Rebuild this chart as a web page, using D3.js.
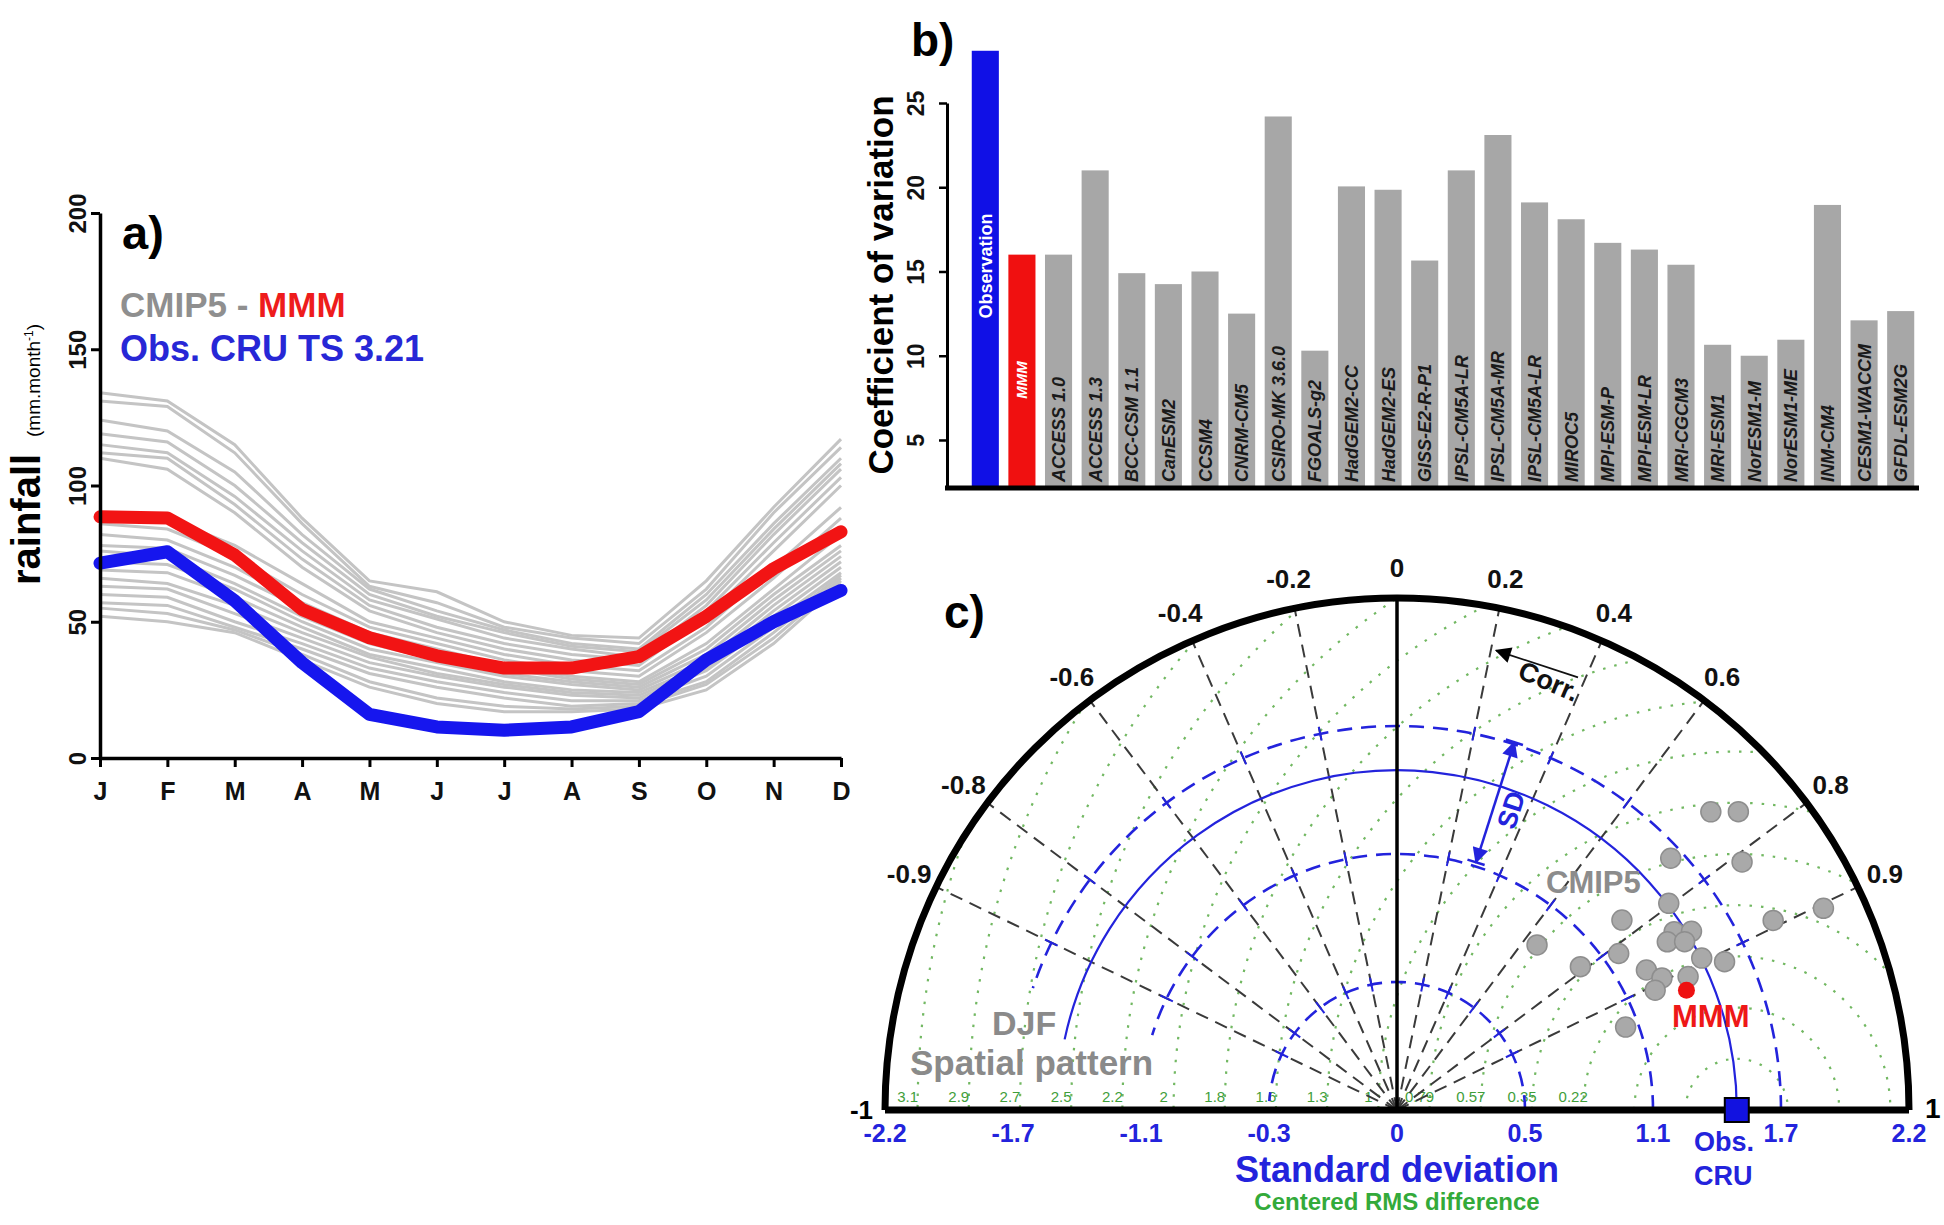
<!DOCTYPE html>
<html>
<head>
<meta charset="utf-8">
<title>CMIP5 rainfall</title>
<script src="https://cdnjs.cloudflare.com/ajax/libs/d3/7.8.5/d3.min.js"></script>
<style>
  body { margin: 0; background: #fff; }
  svg text { font-family: "Liberation Sans", Arial, Helvetica, sans-serif; font-weight: bold; }
</style>
</head>
<body>
<script>
// ---------- a) monthly rainfall (mm/month) ----------
var months = ["J", "F", "M", "A", "M", "J", "J", "A", "S", "O", "N", "D"];
var yTicksA = [0, 50, 100, 150, 200];
var mmmRain = [88.5, 88.1, 74.5, 54.5, 44.1, 37.5, 33, 33, 37.2, 52, 69.5, 83];
var cruRain = [71.5, 75.7, 57.7, 35, 16, 11.4, 10.2, 11.4, 17, 36, 50, 61.5];
var cmipRain = [
  [134, 131, 115, 88, 65, 61, 50, 45, 44, 65, 92, 117],
  [131, 129, 112, 86, 63, 57, 48, 44, 42, 62, 90, 114],
  [124, 120, 105, 82, 62, 54, 47, 42, 40, 60, 86, 110],
  [119, 116, 100, 79, 60, 52, 46, 41, 39, 58, 84, 108],
  [115, 112, 96, 76, 58, 51, 44, 40, 37, 56, 82, 106],
  [112, 110, 93, 73, 56, 48, 42, 38, 36, 54, 79, 103],
  [110, 106, 90, 70, 54, 46, 40, 36, 34, 52, 76, 100],
  [90, 88, 78, 64, 50, 44, 38, 34, 32, 48, 70, 92],
  [86, 84, 74, 60, 48, 42, 36, 32, 30, 46, 66, 88],
  [82, 80, 70, 57, 46, 40, 34, 30, 28, 42, 62, 82],
  [78, 77, 67, 55, 44, 38, 33, 29, 27, 40, 60, 78],
  [76, 74, 64, 52, 42, 36, 31, 28, 26, 38, 58, 76],
  [72, 71, 62, 50, 40, 35, 30, 27, 25, 36, 56, 74],
  [69, 68, 59, 48, 38, 33, 28, 25, 24, 34, 54, 72],
  [66, 64, 56, 46, 37, 31, 27, 24, 23, 33, 52, 70],
  [63, 62, 53, 44, 35, 30, 26, 23, 22, 32, 50, 68],
  [60, 59, 50, 42, 33, 28, 24, 21, 21, 30, 48, 67],
  [57, 56, 48, 40, 31, 26, 22, 19, 20, 28, 46, 66],
  [55, 53, 47, 38, 28, 22, 19, 18, 19, 27, 44, 65],
  [52, 50, 46, 36, 26, 20, 17, 17, 18, 25, 42, 64]
];

// ---------- b) coefficient of variation ----------
var cvNames = ["Observation", "MMM", "ACCESS 1.0", "ACCESS 1.3", "BCC-CSM 1.1", "CanESM2", "CCSM4",
  "CNRM-CM5", "CSIRO-MK 3.6.0", "FGOALS-g2", "HadGEM2-CC", "HadGEM2-ES", "GISS-E2-R-P1",
  "IPSL-CM5A-LR", "IPSL-CM5A-MR", "IPSL-CM5A-LR", "MIROC5", "MPI-ESM-P", "MPI-ESM-LR",
  "MRI-CGCM3", "MRI-ESM1", "NorESM1-M", "NorESM1-ME", "INM-CM4", "CESM1-WACCM", "GFDL-ESM2G"];
var cvValues = [28.1, 16.0, 16.0, 21.0, 14.9, 14.25, 15.0, 12.5, 24.2, 10.3, 20.05, 19.85, 15.65,
  21.0, 23.1, 19.1, 18.1, 16.7, 16.3, 15.4, 10.65, 10.0, 10.95, 18.95, 12.1, 12.65];
var cvTicks = [5, 10, 15, 20, 25];

// ---------- c) Taylor diagram ----------
var cmipSd = [1.467, 1.265, 0.930, 1.000, 1.166, 1.416, 1.480, 1.368, 1.432, 1.463, 1.545,
  1.229, 1.272, 1.223, 1.045, 1.810, 2.027, 1.376, 1.860, 1.948, 1.598, 1.826];
var cmipCorr = [0.796, 0.764, 0.647, 0.788, 0.817, 0.841, 0.855, 0.849, 0.863, 0.895, 0.911,
  0.872, 0.895, 0.907, 0.940, 0.893, 0.904, 0.909, 0.725, 0.753, 0.736, 0.812];
var mmmSd = 1.346, mmmCorr = 0.924;
var obsSd = 1.46;
var corrLines = [-0.9, -0.8, -0.6, -0.4, -0.2, 0.2, 0.4, 0.6, 0.8, 0.9];
var corrTicks = [-0.9, -0.8, -0.6, -0.4, -0.2, 0, 0.2, 0.4, 0.6, 0.8, 0.9];
var sdTicks = [-2.2, -1.65, -1.1, -0.55, 0, 0.55, 1.1, 1.65, 2.2];
var sdTickText = ["-2.2", "-1.7", "-1.1", "-0.3", "0", "0.5", "1.1", "1.7", "2.2"];
var sdArcs = [0.55, 1.1, 1.65];
var rmsRadii = [0.22, 0.44, 0.66, 0.88, 1.10, 1.32, 1.54, 1.76, 1.98, 2.20, 2.42, 2.64, 2.86, 3.08, 3.30, 3.52];
var rmsLabels = ["", "", "0.22", "0.35", "0.57", "0.79", "1", "1.3", "1.6", "1.8", "2", "2.2", "2.5", "2.7", "2.9", "3.1"];

var svg = d3.select("body").append("svg")
  .attr("width", 1944)
  .attr("height", 1225)
  .style("background", "#fff");

// ===================== panel a =====================
var xA = d3.scaleLinear().domain([0, 11]).range([100, 841]);
var yA = d3.scaleLinear().domain([0, 200]).range([758, 213]);
var lineA = d3.line().x(function(d, i) { return xA(i); }).y(function(d) { return yA(d); });

var gA = svg.append("g");

gA.selectAll(".cmip")
  .data(cmipRain)
  .enter().append("path")
  .attr("class", "cmip")
  .attr("d", lineA)
  .attr("fill", "none")
  .attr("stroke", "#c4c4c4")
  .attr("stroke-width", 3);

gA.append("path").datum(mmmRain)
  .attr("d", lineA).attr("fill", "none")
  .attr("stroke", "#f21414").attr("stroke-width", 13)
  .attr("stroke-linejoin", "round").attr("stroke-linecap", "round");

gA.append("path").datum(cruRain)
  .attr("d", lineA).attr("fill", "none")
  .attr("stroke", "#1616ee").attr("stroke-width", 13)
  .attr("stroke-linejoin", "round").attr("stroke-linecap", "round");

// y axis
var axA = gA.append("g")
  .attr("transform", "translate(100,0)")
  .call(d3.axisLeft(yA).tickValues(yTicksA).tickSize(9).tickSizeOuter(0));
axA.select(".domain").attr("stroke-width", 3.5);
axA.selectAll(".tick line").attr("stroke-width", 3);
axA.selectAll(".tick text")
  .attr("x", null).attr("dy", null)
  .attr("transform", "translate(-14,0) rotate(-90)")
  .attr("text-anchor", "middle")
  .style("font-size", "24px").style("fill", "#111");

// x axis
var axAx = gA.append("g")
  .attr("transform", "translate(0,758)")
  .call(d3.axisBottom(xA).tickValues(d3.range(12)).tickFormat(function(i) { return months[i]; })
    .tickSize(9).tickSizeOuter(0).tickPadding(15));
axAx.select(".domain").attr("stroke-width", 3.5);
axAx.selectAll(".tick line").attr("stroke-width", 3);
axAx.selectAll(".tick text").style("font-size", "25px").style("fill", "#111");

// axis title
gA.append("text")
  .attr("transform", "translate(40,585) rotate(-90)")
  .style("font-size", "40px")
  .text("rainfall");
var unit = gA.append("text")
  .attr("transform", "translate(40,437) rotate(-90)")
  .style("font-size", "19px")
  .style("font-weight", "normal");
unit.append("tspan").text("(mm.month");
unit.append("tspan").attr("dy", -7).style("font-size", "12px").text("-1");
unit.append("tspan").attr("dy", 7).text(")");

gA.append("text").attr("x", 122).attr("y", 249)
  .style("font-size", "47px").text("a)");

var leg1 = gA.append("text").attr("x", 120).attr("y", 317).style("font-size", "35px");
leg1.append("tspan").style("fill", "#8f8f8f").text("CMIP5 - ");
leg1.append("tspan").style("fill", "#ee1c1c").text("MMM");
gA.append("text").attr("x", 120).attr("y", 361)
  .style("font-size", "36px").style("fill", "#2727d6")
  .text("Obs. CRU TS 3.21");

// ===================== panel b =====================
var xB = d3.scaleBand().domain(d3.range(cvNames.length))
  .range([967, 1919]).paddingInner(0.26).paddingOuter(0.13);
var yB = d3.scaleLinear().domain([2.15, 25]).range([488, 103]);
var gB = svg.append("g");

gB.selectAll(".bar")
  .data(cvValues)
  .enter().append("rect")
  .attr("class", "bar")
  .attr("x", function(d, i) { return xB(i); })
  .attr("width", xB.bandwidth())
  .attr("y", function(d) { return yB(d); })
  .attr("height", function(d) { return yB(2.15) - yB(d); })
  .attr("fill", function(d, i) { return i == 0 ? "#1010e6" : (i == 1 ? "#f01010" : "#a7a7a7"); });

// bar names
gB.selectAll(".name")
  .data(cvNames)
  .enter().append("text")
  .attr("class", "name")
  .attr("transform", function(d, i) {
    var c = xB(i) + xB.bandwidth() / 2;
    if (i == 0) return "translate(" + (c + 6.5) + ",266) rotate(-90)";
    if (i == 1) return "translate(" + (c + 5.5) + ",380) rotate(-90)";
    return "translate(" + (c + 6.5) + ",482) rotate(-90)";
  })
  .attr("text-anchor", function(d, i) { return i < 2 ? "middle" : "start"; })
  .style("font-size", function(d, i) { return i == 0 ? "18px" : (i == 1 ? "15px" : "18px"); })
  .style("font-style", function(d, i) { return i == 0 ? "normal" : "italic"; })
  .style("fill", function(d, i) { return i < 2 ? "#fff" : "#1a1a1a"; })
  .text(function(d) { return d; });

var axB = gB.append("g")
  .attr("transform", "translate(947,0)")
  .call(d3.axisLeft(yB).tickValues(cvTicks).tickSize(8).tickSizeOuter(0));
axB.select(".domain").attr("stroke-width", 3);
axB.selectAll(".tick line").attr("stroke-width", 2.5);
axB.selectAll(".tick text")
  .attr("x", null).attr("dy", null)
  .attr("transform", "translate(-23,0) rotate(-90)")
  .attr("text-anchor", "middle")
  .style("font-size", "23px").style("fill", "#111");

gB.append("line")
  .attr("x1", 945).attr("x2", xB.range()[1])
  .attr("y1", yB(2.15)).attr("y2", yB(2.15))
  .attr("stroke", "#000").attr("stroke-width", 5);

gB.append("text")
  .attr("transform", "translate(893,285) rotate(-90)")
  .attr("text-anchor", "middle")
  .style("font-size", "35px")
  .text("Coefficient of variation");

gB.append("text").attr("x", 911).attr("y", 56)
  .style("font-size", "46px").text("b)");

// ===================== panel c =====================
var tc = { x: 1397, y: 1110 };
var rS = d3.scaleLinear().domain([0, 2.2]).range([0, 512]);
var R = rS(2.2);
var blue = "#2323dc";

function polar(sd, corr) {
  var a = Math.acos(corr);
  return [tc.x + rS(sd) * Math.cos(a), tc.y - rS(sd) * Math.sin(a)];
}
function polarPx(r, deg) {
  var a = deg * Math.PI / 180;
  return [tc.x + r * Math.cos(a), tc.y - r * Math.sin(a)];
}
function arcPath(r, fromDeg, toDeg) {
  var p = d3.path();
  var a0 = -fromDeg * Math.PI / 180, a1 = -toDeg * Math.PI / 180;
  p.moveTo(tc.x + r * Math.cos(a0), tc.y + r * Math.sin(a0));
  p.arc(tc.x, tc.y, r, a0, a1, true);
  return p.toString();
}

var gC = svg.append("g");

var defs = svg.append("defs");
var semi = d3.path();
semi.moveTo(tc.x + R, tc.y);
semi.arc(tc.x, tc.y, R, 0, -Math.PI, true);
semi.closePath();
defs.append("clipPath").attr("id", "half").append("path").attr("d", semi.toString());

function addHead(id, color) {
  defs.append("marker").attr("id", id)
    .attr("viewBox", "0 0 10 10").attr("refX", 9).attr("refY", 5)
    .attr("markerUnits", "userSpaceOnUse")
    .attr("markerWidth", 20).attr("markerHeight", 16)
    .attr("orient", "auto-start-reverse")
    .append("path").attr("d", "M0,0 L10,5 L0,10 Z").attr("fill", color);
}
addHead("headK", "#000");
addHead("headB", blue);

// centred RMS circles
var ox = tc.x + rS(obsSd);
gC.append("g").attr("clip-path", "url(#half)")
  .selectAll("circle")
  .data(rmsRadii)
  .enter().append("circle")
  .attr("cx", ox).attr("cy", tc.y)
  .attr("r", function(d) { return rS(d); })
  .attr("fill", "none")
  .attr("stroke", "#72b862")
  .attr("stroke-width", 2.2)
  .attr("stroke-dasharray", "2.5,9");

gC.selectAll(".rmslab")
  .data(rmsRadii)
  .enter().append("text")
  .attr("class", "rmslab")
  .attr("x", function(d) { return tc.x + rS(obsSd - d) - 10; })
  .attr("y", tc.y - 8)
  .attr("text-anchor", "middle")
  .style("font-size", "15px").style("font-weight", "normal")
  .style("fill", "#3f9e3a")
  .text(function(d, i) { return rmsLabels[i]; });

// correlation rays
gC.selectAll(".ray")
  .data(corrLines)
  .enter().append("line")
  .attr("class", "ray")
  .attr("x1", tc.x).attr("y1", tc.y)
  .attr("x2", function(d) { return polar(2.2, d)[0]; })
  .attr("y2", function(d) { return polar(2.2, d)[1]; })
  .attr("stroke", "#3a3a3a")
  .attr("stroke-width", 2)
  .attr("stroke-dasharray", "13,8");

// standard deviation arcs
var arcEnds = [176, 163, 161.5];
gC.selectAll(".sdarc")
  .data(sdArcs)
  .enter().append("path")
  .attr("class", "sdarc")
  .attr("d", function(d, i) { return arcPath(rS(d), 0, arcEnds[i]); })
  .attr("fill", "none")
  .attr("stroke", blue)
  .attr("stroke-width", 2.6)
  .attr("stroke-dasharray", "15,9");

// small marks where the SD arcs meet the rays
sdArcs.forEach(function(s, i) {
  corrLines.forEach(function(c) {
    var deg = Math.acos(c) * 180 / Math.PI;
    if (deg > arcEnds[i]) return;
    var p0 = polarPx(rS(s) - 7, deg), p1 = polarPx(rS(s) + 7, deg);
    gC.append("line")
      .attr("x1", p0[0]).attr("y1", p0[1]).attr("x2", p1[0]).attr("y2", p1[1])
      .attr("stroke", blue).attr("stroke-width", 2);
  });
});

gC.append("path")
  .attr("d", arcPath(rS(obsSd), 0, 168))
  .attr("fill", "none").attr("stroke", blue).attr("stroke-width", 2.2);

// frame
gC.append("path").attr("d", arcPath(R, 0, 180))
  .attr("fill", "none").attr("stroke", "#000").attr("stroke-width", 7);
gC.append("line")
  .attr("x1", tc.x - R).attr("x2", tc.x + R)
  .attr("y1", tc.y).attr("y2", tc.y)
  .attr("stroke", "#000").attr("stroke-width", 7);
gC.append("line")
  .attr("x1", tc.x).attr("x2", tc.x)
  .attr("y1", tc.y).attr("y2", tc.y - R)
  .attr("stroke", "#000").attr("stroke-width", 3.5);

// correlation labels
gC.selectAll(".corrlab")
  .data(corrTicks)
  .enter().append("text")
  .attr("class", "corrlab")
  .attr("x", function(d) { return tc.x + (R + 30) * d; })
  .attr("y", function(d) { return tc.y - (R + 30) * Math.sqrt(1 - d * d); })
  .attr("dy", "0.35em")
  .attr("text-anchor", "middle")
  .style("font-size", "26px").style("fill", "#111")
  .text(function(d) { return String(d); });
gC.append("text").attr("x", tc.x - R - 12).attr("y", tc.y).attr("dy", "0.35em")
  .attr("text-anchor", "end").style("font-size", "26px").text("-1");
gC.append("text").attr("x", tc.x + R + 16).attr("y", tc.y).attr("dy", "0.3em")
  .style("font-size", "28px").text("1");

// standard deviation labels
gC.selectAll(".sdlab")
  .data(sdTicks)
  .enter().append("text")
  .attr("class", "sdlab")
  .attr("x", function(d) { return tc.x + (d < 0 ? -rS(-d) : rS(d)); })
  .attr("y", tc.y + 32)
  .attr("text-anchor", "middle")
  .style("font-size", "25px").style("fill", blue)
  .text(function(d, i) { return sdTickText[i]; });

// models
var cmipPts = cmipSd.map(function(s, i) { return polar(s, cmipCorr[i]); });
gC.selectAll(".model")
  .data(cmipPts)
  .enter().append("circle")
  .attr("class", "model")
  .attr("cx", function(d) { return d[0]; })
  .attr("cy", function(d) { return d[1]; })
  .attr("r", 10)
  .attr("fill", "#a9a9a9")
  .attr("stroke", "#8e8e8e")
  .attr("stroke-width", 1.5);

var mp = polar(mmmSd, mmmCorr);
gC.append("circle").attr("cx", mp[0]).attr("cy", mp[1]).attr("r", 8.5).attr("fill", "#ee1111");

var op = polar(obsSd, 1);
gC.append("rect")
  .attr("x", op[0] - 12).attr("y", op[1] - 12)
  .attr("width", 24).attr("height", 24)
  .attr("fill", "#1212e0").attr("stroke", "#000").attr("stroke-width", 2);

// corr arrow
var ca0 = polarPx(469, 67.3), ca1 = polarPx(470, 77.8);
gC.append("line")
  .attr("x1", ca0[0]).attr("y1", ca0[1]).attr("x2", ca1[0]).attr("y2", ca1[1])
  .attr("stroke", "#111").attr("stroke-width", 1.8)
  .attr("marker-end", "url(#headK)");
var ct = polarPx(455, 70.5);
gC.append("text")
  .attr("transform", "translate(" + ct[0] + "," + ct[1] + ") rotate(23)")
  .attr("text-anchor", "middle").attr("dy", "0.35em")
  .style("font-size", "27px").style("fill", "#111")
  .text("Corr.");

// SD arrow
var sdDeg = 72.3;
var sa0 = polarPx(rS(1.1) + 4, sdDeg), sa1 = polarPx(rS(1.65) + 2, sdDeg);
gC.append("line")
  .attr("x1", sa0[0]).attr("y1", sa0[1]).attr("x2", sa1[0]).attr("y2", sa1[1])
  .attr("stroke", blue).attr("stroke-width", 2.5)
  .attr("marker-start", "url(#headB)").attr("marker-end", "url(#headB)");
[sa0, sa1].forEach(function(p) {
  var a = sdDeg * Math.PI / 180, dx = 9 * Math.sin(a), dy = 9 * Math.cos(a);
  gC.append("line")
    .attr("x1", p[0] - dx).attr("y1", p[1] - dy).attr("x2", p[0] + dx).attr("y2", p[1] + dy)
    .attr("stroke", blue).attr("stroke-width", 2.5);
});
var st = polarPx(321, 69.2);
gC.append("text")
  .attr("transform", "translate(" + st[0] + "," + st[1] + ") rotate(" + (-sdDeg) + ")")
  .attr("text-anchor", "middle").attr("dy", "0.35em")
  .style("font-size", "27px").style("fill", blue)
  .text("SD");

// texts
gC.append("text").attr("x", 944).attr("y", 628).style("font-size", "46px").text("c)");
gC.append("text").attr("x", 1546).attr("y", 893).style("font-size", "31px").style("fill", "#8c8c8c").text("CMIP5");
gC.append("text").attr("x", 1672).attr("y", 1027).style("font-size", "31px").style("fill", "#ee1818").text("MMM");
gC.append("text").attr("x", 992).attr("y", 1035).style("font-size", "34px").style("fill", "#8a8a8a").text("DJF");
gC.append("text").attr("x", 910).attr("y", 1075).style("font-size", "35px").style("fill", "#8a8a8a").text("Spatial pattern");
gC.append("text").attr("x", 1694).attr("y", 1151).style("font-size", "27px").style("fill", blue).text("Obs.");
gC.append("text").attr("x", 1694).attr("y", 1185).style("font-size", "27px").style("fill", blue).text("CRU");
gC.append("text").attr("x", tc.x).attr("y", 1182).attr("text-anchor", "middle")
  .style("font-size", "36px").style("fill", blue).text("Standard deviation");
gC.append("text").attr("x", tc.x).attr("y", 1210).attr("text-anchor", "middle")
  .style("font-size", "24px").style("fill", "#33aa3a").text("Centered RMS difference");
</script>
</body>
</html>
